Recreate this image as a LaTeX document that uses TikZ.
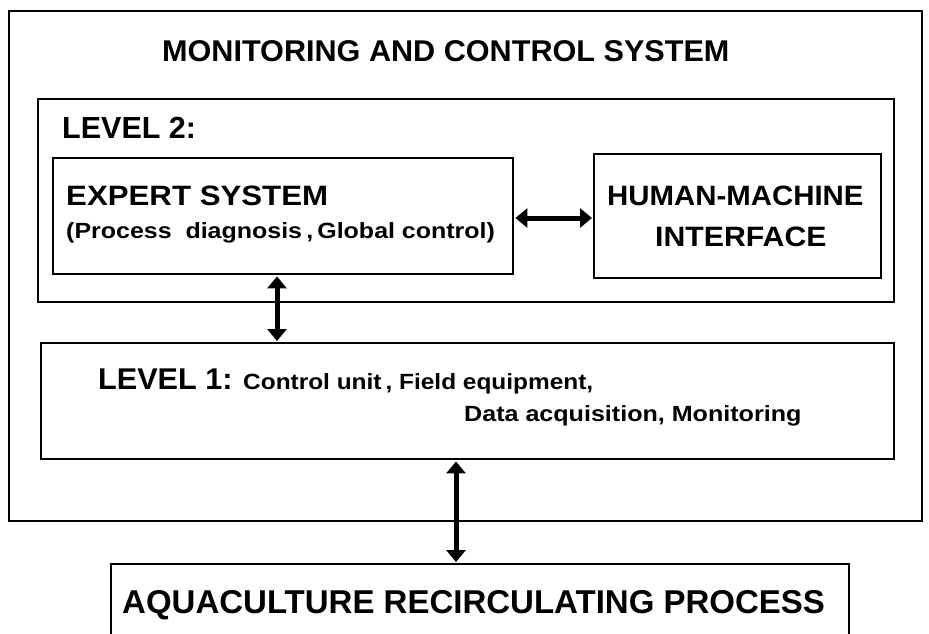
\documentclass[tikz,border=0pt]{standalone}
\usepackage{fontspec}
\usepackage{graphicx}
\setmainfont{Liberation Sans}
\usetikzlibrary{arrows.meta}
\newcommand{\hstretch}[2]{\scalebox{#1}[1]{#2}}
\begin{document}
\begin{tikzpicture}[x=1pt,y=-1pt,
  box/.style={draw, line width=2.4pt, anchor=north west, inner sep=0pt},
  lbl/.style={anchor=base west, inner sep=0pt, font=\bfseries},
  arr/.style={line width=5pt, {Triangle[width=19pt,length=12pt]}-{Triangle[width=19pt,length=12pt]}, shorten <=1pt, shorten >=1pt}]
\useasboundingbox (0,0) rectangle (929,633);
\fill[white] (0,0) rectangle (929,633);
% boxes
\node[box, minimum width=913pt, minimum height=510pt] (outer) at (8,10) {};
\node[box, minimum width=856pt, minimum height=203pt] (lvl2) at (37,98) {};
\node[box, minimum width=460pt, minimum height=116pt] (expert) at (52,157) {};
\node[box, minimum width=287pt, minimum height=124pt] (hmi) at (593,153) {};
\node[box, minimum width=853pt, minimum height=116pt] (lvl1) at (40,342) {};
\node[box, minimum width=738pt, minimum height=90pt] (proc) at (110,563) {};
% texts
\node[lbl, font=\bfseries\fontsize{30}{30}\selectfont] (t1) at (162,61) {\hstretch{1.02}{MONITORING AND CONTROL SYSTEM}};
\node[lbl, font=\bfseries\fontsize{30.5}{30.5}\selectfont] (t2) at (62,138) {LEVEL 2:};
\node[lbl, font=\bfseries\fontsize{28}{28}\selectfont] (t3) at (66,205) {\hstretch{1.115}{EXPERT SYSTEM}};
\node[lbl, font=\bfseries\fontsize{22}{22}\selectfont] (t4) at (66,238) {\hstretch{1.135}{(Process\ \ diagnosis\,,\,Global control)}};
\node[lbl, font=\bfseries\fontsize{28}{28}\selectfont] (t5) at (607,205) {\hstretch{1.05}{HUMAN-MACHINE}};
\node[lbl, font=\bfseries\fontsize{28}{28}\selectfont] (t6) at (655,246) {\hstretch{1.08}{INTERFACE}};
\node[lbl, font=\bfseries\fontsize{30}{30}\selectfont] (t7) at (98,389) {\hstretch{1.02}{LEVEL 1:}};
\node[lbl, font=\bfseries\fontsize{22}{22}\selectfont] (t8) at (243,389) {\hstretch{1.11}{Control unit\,, Field equipment,}};
\node[lbl, font=\bfseries\fontsize{22}{22}\selectfont] (t9) at (464,421) {\hstretch{1.14}{Data acquisition, Monitoring}};
\node[lbl, font=\bfseries\fontsize{33}{33}\selectfont] (t10) at (122,613) {AQUACULTURE RECIRCULATING PROCESS};
% connectors
\coordinate (c1) at (277,0);
\coordinate (c2) at (456,0);
\draw[arr] (expert.east |- 0,218) -- (hmi.west |- 0,218);
\draw[arr] (expert.south -| c1) -- (lvl1.north -| c1);
\draw[arr] (lvl1.south -| c2) -- (proc.north -| c2);
\end{tikzpicture}
\end{document}
